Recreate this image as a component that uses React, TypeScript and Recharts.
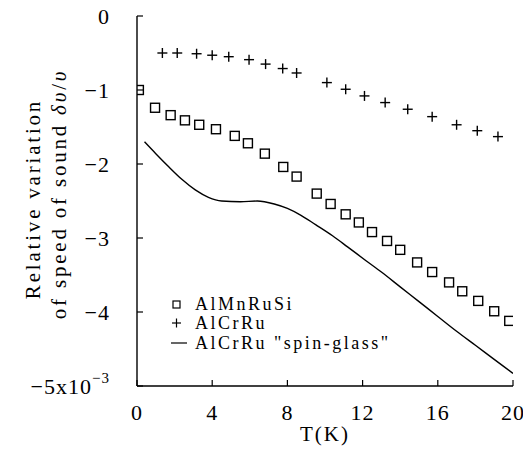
import React from "react";
import { ComposedChart, XAxis, YAxis, Scatter, Line } from "recharts";

const xTicks = [0, 4, 8, 12, 16, 20];
const yTicks = [0, -1, -2, -3, -4, -5];

const almnT = [0.1, 0.96, 1.79, 2.55, 3.31, 4.2, 5.2, 5.9, 6.8, 7.78, 8.49, 9.56, 10.3, 11.1, 11.8, 12.5, 13.3, 14.0, 14.9, 15.7, 16.6, 17.3, 18.15, 19.0, 19.8];
const almnV = [-1.0, -1.24, -1.34, -1.41, -1.47, -1.53, -1.62, -1.72, -1.86, -2.04, -2.17, -2.4, -2.54, -2.68, -2.79, -2.92, -3.04, -3.16, -3.33, -3.46, -3.6, -3.72, -3.85, -3.99, -4.12];

const crT = [1.35, 2.14, 3.17, 4.0, 4.88, 5.96, 6.84, 7.75, 8.49, 10.1, 11.1, 12.1, 13.2, 14.4, 15.7, 17.0, 18.1, 19.2];
const crV = [-0.5, -0.5, -0.51, -0.53, -0.55, -0.59, -0.65, -0.71, -0.77, -0.9, -0.99, -1.08, -1.17, -1.26, -1.36, -1.47, -1.55, -1.63];

const sgT = [0.4, 1.0, 1.7, 2.4, 3.1, 3.8, 4.5, 5.5, 6.4, 7.3, 8.0, 8.7, 9.5, 10.4, 11.2, 12.2, 13.0, 14.0, 15.0, 16.0, 17.0, 18.0, 19.0, 20.0];
const sgV = [-1.7, -1.86, -2.04, -2.21, -2.35, -2.45, -2.5, -2.51, -2.5, -2.54, -2.6, -2.69, -2.82, -2.97, -3.12, -3.31, -3.46, -3.66, -3.86, -4.06, -4.26, -4.45, -4.64, -4.83];

const legendLabels = ["AlMnRuSi", "AlCrRu", "AlCrRu \"spin-glass\""];

const zip = (ts: number[], vs: number[]) => ts.map((t, i) => ({ t, v: vs[i] }));
const almnData = zip(almnT, almnV);
const crData = zip(crT, crV);
const sgData = zip(sgT, sgV);

const FONT = "'Liberation Serif', serif";

const SquareShape = (p: any) => (
  <rect x={p.cx - 4.5} y={p.cy - 4.5} width={9} height={9} fill="none" stroke="#000" strokeWidth={1.4} />
);
const CrossShape = (p: any) => (
  <g stroke="#000" strokeWidth={1.4}>
    <line x1={p.cx - 5} x2={p.cx + 5} y1={p.cy} y2={p.cy} />
    <line x1={p.cx} x2={p.cx} y1={p.cy - 5} y2={p.cy + 5} />
  </g>
);

const YTick = (p: any) => {
  const v = p.payload.value;
  return (
    <g>
      <line x1={p.x} x2={p.x + 6} y1={p.y} y2={p.y} stroke="#000" strokeWidth={1.2} />
      {v === -5 ? (
        <text x={p.x - 27} y={p.y} dy="0.36em" textAnchor="end" fontFamily={FONT} fontSize={22} fill="#000" letterSpacing={1}>
          <tspan>−5x10</tspan>
          <tspan fontSize={15} dy="-0.75em">−3</tspan>
        </text>
      ) : (
        <text x={p.x - 27} y={p.y} dy="0.36em" textAnchor="end" fontFamily={FONT} fontSize={22} fill="#000" letterSpacing={1}>
          {v === 0 ? "0" : "−" + Math.abs(v)}
        </text>
      )}
    </g>
  );
};

const XTick = (p: any) => (
  <g>
    <line x1={p.x} x2={p.x} y1={p.y} y2={p.y - 6} stroke="#000" strokeWidth={1.2} />
    <text x={p.x} y={p.y + 26} dy="0.36em" textAnchor="middle" fontFamily={FONT} fontSize={22} fill="#000" letterSpacing={1}>
      {p.payload.value}
    </text>
  </g>
);

const XLabel = (p: any) => {
  const vb = p.viewBox;
  return (
    <text x={vb.x + vb.width / 2} y={vb.y + 47} dy="0.36em" textAnchor="middle" fontFamily={FONT} fontSize={21} fill="#000" letterSpacing={2}>
      T(K)
    </text>
  );
};

const YLabel = (p: any) => {
  const vb = p.viewBox;
  const ax = vb.x + vb.width;
  return (
    <g fontFamily={FONT} fontSize={21} fill="#000" letterSpacing={2.8}>
      <text transform={`translate(${ax - 105},199) rotate(-90)`} textAnchor="middle" dy="0.36em">
        Relative variation
      </text>
      <text transform={`translate(${ax - 79},194) rotate(-90)`} textAnchor="middle" dy="0.36em">
        of speed of sound <tspan fontStyle="italic">δυ</tspan>/<tspan fontStyle="italic">υ</tspan>
      </text>
    </g>
  );
};

const Legend = () => {
  const x0 = 176;
  const rows = [304, 323, 343];
  return (
    <g fontFamily={FONT} fontSize={18} fill="#000" letterSpacing={2.5}>
      <rect x={x0 - 3} y={rows[0] - 3} width={7} height={7} fill="none" stroke="#000" strokeWidth={1.2} />
      <g stroke="#000" strokeWidth={1.2}>
        <line x1={x0 - 4} x2={x0 + 5} y1={rows[1]} y2={rows[1]} />
        <line x1={x0 + 0.5} x2={x0 + 0.5} y1={rows[1] - 4.5} y2={rows[1] + 4.5} />
        <line x1={x0 - 5} x2={x0 + 11} y1={rows[2]} y2={rows[2]} />
      </g>
      {legendLabels.map((l, i) => (
        <text key={l} x={x0 + 19} y={rows[i]} dy="0.36em">{l}</text>
      ))}
    </g>
  );
};

export default function App() {
  return (
    <div style={{ width: 531, height: 453, position: "relative", background: "#fff", margin: "-8px 0 0 -8px" }}>
      <ComposedChart width={531} height={453} margin={{ top: 16, right: 18, bottom: 0, left: 47 }}>
        <XAxis
          type="number"
          dataKey="t"
          domain={[0, 20]}
          ticks={xTicks}
          interval={0}
          allowDataOverflow
          tickSize={0}
          tickMargin={0}
          tick={<XTick />}
          height={67}
          axisLine={{ stroke: "#000", strokeWidth: 1.4 }}
          label={<XLabel />}
        />
        <YAxis
          type="number"
          dataKey="v"
          domain={[-5, 0]}
          ticks={yTicks}
          interval={0}
          allowDataOverflow
          tickSize={0}
          tickMargin={0}
          tick={<YTick />}
          width={90}
          axisLine={{ stroke: "#000", strokeWidth: 1.4 }}
          label={<YLabel />}
        />
        <Line data={sgData} dataKey="v" type="monotone" stroke="#000" strokeWidth={1.4} dot={false} isAnimationActive={false} />
        <Scatter data={almnData} dataKey="v" shape={<SquareShape />} isAnimationActive={false} />
        <Scatter data={crData} dataKey="v" shape={<CrossShape />} isAnimationActive={false} />
      </ComposedChart>
      <svg width={531} height={453} style={{ position: "absolute", left: 0, top: 0, pointerEvents: "none" }}>
        <Legend />
      </svg>
    </div>
  );
}
